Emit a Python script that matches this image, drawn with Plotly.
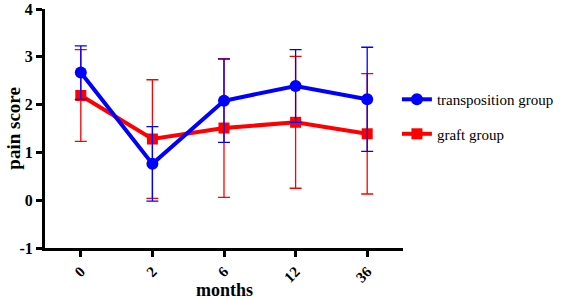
import plotly.graph_objects as go

months = ["0", "2", "6", "12", "36"]
transposition_mean = [2.67, 0.76, 2.08, 2.39, 2.11]
transposition_err = [0.56, 0.78, 0.87, 0.76, 1.09]
graft_mean = [2.19, 1.28, 1.51, 1.63, 1.39]
graft_err = [0.96, 1.24, 1.45, 1.38, 1.26]
y_ticks = [-1, 0, 1, 2, 3, 4]
y_tick_labels = ["-1", "0", "1", "2", "3", "4"]

font_serif = "Liberation Serif"

fig = go.Figure()
fig.add_trace(go.Scatter(
    x=months, y=graft_mean, name="graft group", mode="lines+markers",
    legendgroup="g", legendrank=2,
    line=dict(color="#ff0000", width=4),
    marker=dict(symbol="square", size=11, color="#ff0000"),
    error_y=dict(type="data", array=graft_err, visible=True, color="#ff0000", thickness=1.3, width=6),
))
fig.add_trace(go.Scatter(
    x=months, y=transposition_mean, name="transposition group", mode="lines+markers",
    legendgroup="t", legendrank=1,
    line=dict(color="#0000ff", width=4),
    marker=dict(symbol="circle", size=12, color="#0000ff"),
    error_y=dict(type="data", array=transposition_err, visible=True, color="#0000ff", thickness=1.3, width=6),
))

fig.update_layout(
    width=563, height=299,
    margin=dict(l=45, r=160, t=9, b=51, autoexpand=False),
    plot_bgcolor="white", paper_bgcolor="white",
    font=dict(family=font_serif, color="black"),
    showlegend=True,
    legend=dict(x=0.983, y=0.55, xanchor="left", yanchor="middle", traceorder="grouped",
                font=dict(size=15, family=font_serif), itemwidth=30, tracegroupgap=12,
                bgcolor="rgba(0,0,0,0)"),
    xaxis=dict(
        type="category", range=[-0.5, 4.5], showgrid=False, zeroline=False,
        showline=True, linecolor="black", linewidth=3, automargin=False,
        ticks="outside", ticklen=6, tickwidth=3, tickcolor="black",
        tickangle=-45, tickfont=dict(size=15, family=font_serif, weight="bold"),
    ),
    yaxis=dict(
        range=[-1, 4], tickvals=y_ticks, ticktext=y_tick_labels,
        showgrid=False, zeroline=False, automargin=False,
        showline=True, linecolor="black", linewidth=3,
        ticks="outside", ticklen=6, tickwidth=3, tickcolor="black",
        tickfont=dict(size=16, family=font_serif, weight="bold"),
    ),
    annotations=[
        dict(text="<b>months</b>", x=0.5, y=-0.125, xref="paper", yref="paper",
             xanchor="center", yanchor="top", showarrow=False,
             font=dict(size=18, family=font_serif)),
        dict(text="<b>pain score</b>", x=-0.089, y=0.5, xref="paper", yref="paper",
             xanchor="center", yanchor="middle", showarrow=False, textangle=-90,
             font=dict(size=19, family=font_serif)),
    ],
)

fig.write_html("out.html", config={"displayModeBar": False},
               post_script="document.body.style.margin='0';")
